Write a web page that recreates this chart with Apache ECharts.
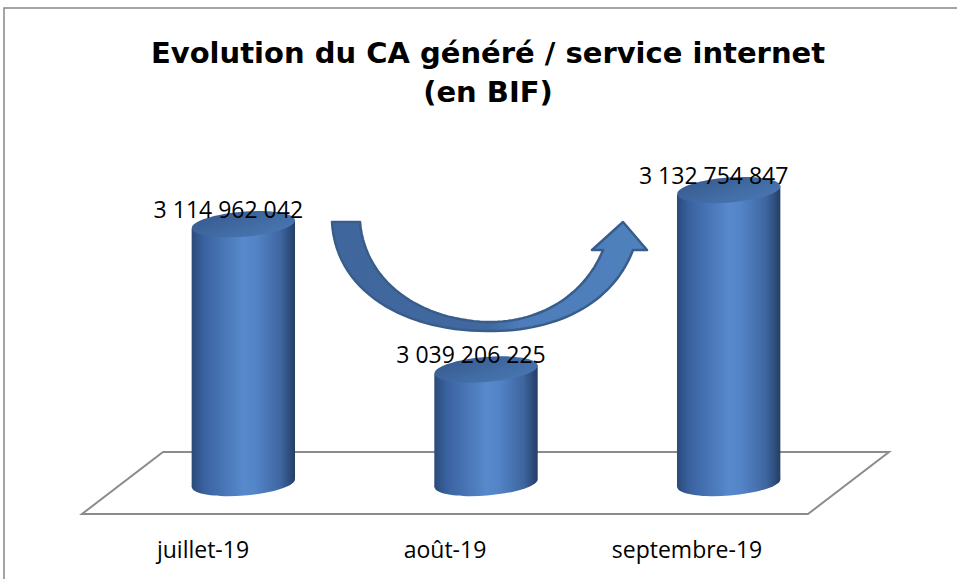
<!DOCTYPE html>
<html><head><meta charset="utf-8">
<script src="https://cdn.jsdelivr.net/npm/echarts@6/dist/echarts.min.js"></script>
<style>html,body{margin:0;padding:0;background:#fff}#c{width:957px;height:579px}</style>
</head><body><div id="c"></div>
<script>
const categories = ['juillet-19', 'août-19', 'septembre-19'];
const values = [3114962042, 3039206225, 3132754847];
const titleLines = ['Evolution du CA généré / service internet', '(en BIF)'];
const yMin = 2980000000;
const yMax = 3150000000;

function fmt(v) { return String(v).replace(/\B(?=(\d{3})+(?!\d))/g, ' '); }

function lin(x2, y2, stops) {
  return { type: 'linear', x: 0, y: 0, x2: x2, y2: y2, global: false,
    colorStops: stops.map(s => ({ offset: s[0], color: s[1] })) };
}

// decorative curved arrow outline, sampled from cubic Bezier segments
function bez(p0, p1, p2, p3, n) {
  const out = [];
  for (let i = 1; i <= n; i++) {
    const t = i / n, u = 1 - t;
    out.push([
      u*u*u*p0[0] + 3*u*u*t*p1[0] + 3*u*t*t*p2[0] + t*t*t*p3[0],
      u*u*u*p0[1] + 3*u*u*t*p1[1] + 3*u*t*t*p2[1] + t*t*t*p3[1]
    ]);
  }
  return out;
}
function arrowPoints() {
  let pts = [[332, 222], [360, 222]];
  pts = pts.concat(bez([360, 222], [365, 282], [420, 320], [487, 322], 30));
  pts = pts.concat(bez([487, 322], [540, 323], [585, 295], [603, 250], 30));
  pts.push([592, 250], [623, 222], [647, 250], [633, 250]);
  pts = pts.concat(bez([633, 250], [612, 305], [555, 332], [487, 331], 30));
  pts = pts.concat(bez([487, 331], [405, 331], [336, 292], [332, 222], 30));
  return pts;
}

const chart = echarts.init(document.getElementById('c'), null, { renderer: 'svg' });

function bodyGrad() {
  return lin(1, 0, [[0, '#2B4A79'], [0.12, '#3A62A0'], [0.5, '#5789CC'], [0.62, '#5384C7'], [0.86, '#3E66A0'], [1, '#243E66']]);
}

function renderItem(params, api) {
  const idx = api.value(0);
  const v = api.value(1);
  const pt = api.coord([idx, v]);
  const bp = api.coord([idx, yMin]);
  const band = api.size([1, 0])[0];
  const rx = band * 0.213;
  const ry = 12.5;
  const a = 0.08;
  const d = rx * Math.sin(a);
  const cx = pt[0];
  return {
    type: 'group',
    children: [
      { type: 'ellipse', shape: { cx: cx, cy: bp[1], rx: rx, ry: ry }, rotation: a, originX: cx, originY: bp[1], style: { fill: bodyGrad() } },
      { type: 'polygon', shape: { points: [[cx - rx, pt[1] + d], [cx + rx, pt[1] - d], [cx + rx, bp[1] - d], [cx - rx, bp[1] + d]] }, style: { fill: bodyGrad() } },
      { type: 'ellipse', shape: { cx: cx, cy: pt[1], rx: rx, ry: ry }, rotation: a, originX: cx, originY: pt[1],
        style: { fill: lin(1, 1, [[0, '#365A8E'], [1, '#4A79B5']]) } },
      { type: 'text', x: cx - 15, y: pt[1] - 15, z2: 10,
        style: { text: fmt(v), fill: '#000', font: '23px "Open Sans"', align: 'center', verticalAlign: 'middle' } }
    ]
  };
}

const option = {
  backgroundColor: '#fff',
  animation: false,
  title: {
    text: titleLines.join('\n'),
    left: 483, textAlign: 'center', top: 28,
    textStyle: { fontFamily: 'DejaVu Sans', fontWeight: 'bold', fontSize: 29, lineHeight: 39, color: '#000' }
  },
  grid: [
    { left: 122, right: 107, top: 157, bottom: 96 },
    { left: 82, right: 149, top: 400, bottom: 65 }
  ],
  xAxis: [
    { type: 'category', gridIndex: 0, data: categories, axisLine: { show: false }, axisTick: { show: false }, axisLabel: { show: false }, splitLine: { show: false } },
    { type: 'category', gridIndex: 1, data: categories, axisLine: { show: false }, axisTick: { show: false }, splitLine: { show: false },
      axisLabel: { show: true, margin: 23, color: '#000', fontFamily: 'Open Sans', fontSize: 23 } }
  ],
  yAxis: [
    { type: 'value', gridIndex: 0, min: yMin, max: yMax, show: false },
    { type: 'value', gridIndex: 1, show: false }
  ],
  graphic: [
    { type: 'rect', z: 0, shape: { x: 4, y: 8, width: 1000, height: 1000 }, style: { fill: 'none', stroke: '#868686', lineWidth: 1.5 } },
    { type: 'polygon', z: 0, shape: { points: [[163, 452], [889, 452], [808, 514], [82, 514]] }, style: { fill: '#fff', stroke: '#8C8C8C', lineWidth: 2 } },
    { type: 'polygon', z: 20,
      shape: { points: arrowPoints() },
      style: { fill: lin(1, 0, [[0, '#3F679E'], [0.5, '#41699F'], [0.6, '#4D7DBA'], [1, '#4F81BD']]), stroke: '#385D8A', lineWidth: 2.5, lineJoin: 'round' } }
  ],
  series: [{
    type: 'custom',
    xAxisIndex: 0, yAxisIndex: 0,
    renderItem: renderItem,
    encode: { x: 0, y: 1 },
    data: values.map((v, i) => [i, v]),
    z: 5
  }]
};
chart.setOption(option);
</script></body></html>
